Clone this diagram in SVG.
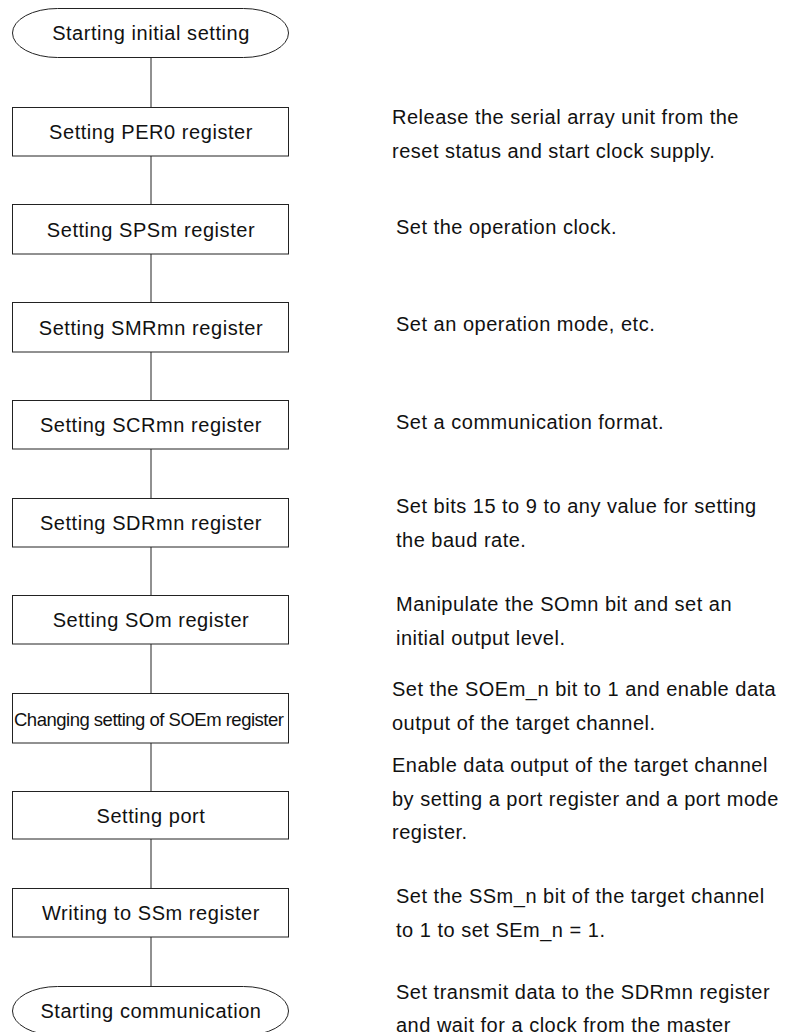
<svg xmlns="http://www.w3.org/2000/svg" width="790" height="1032" viewBox="0 0 790 1032">
<style>
  .shape { fill: #ffffff; stroke: #222222; stroke-width: 1; }
  .conn { stroke: #222222; stroke-width: 1; fill: none; }
  .lbl { font-family: "Liberation Sans", Arial, sans-serif; font-size: 20px; letter-spacing: 0.55px; fill: #111111; text-anchor: middle; }
  .note { font-family: "Liberation Sans", Arial, sans-serif; font-size: 20px; letter-spacing: 0.5px; fill: #111111; }
</style>
<rect width="790" height="1032" fill="#ffffff"/>
<g id="connectors">
  <line class="conn" x1="151" y1="57" x2="151" y2="107"/>
  <line class="conn" x1="151" y1="156" x2="151" y2="204"/>
  <line class="conn" x1="151" y1="254" x2="151" y2="302"/>
  <line class="conn" x1="151" y1="352" x2="151" y2="400"/>
  <line class="conn" x1="151" y1="449" x2="151" y2="498"/>
  <line class="conn" x1="151" y1="547" x2="151" y2="595"/>
  <line class="conn" x1="151" y1="644" x2="151" y2="693"/>
  <line class="conn" x1="151" y1="743" x2="151" y2="791"/>
  <line class="conn" x1="151" y1="839" x2="151" y2="888"/>
  <line class="conn" x1="151" y1="937" x2="151" y2="986"/>
</g>
<g id="start">
  <rect class="shape" x="12.5" y="8.5" width="276" height="49" rx="45" ry="24.5"/>
  <text class="lbl" x="151" y="40">Starting initial setting</text>
</g>
<g id="per0">
  <rect class="shape" x="12.5" y="107.5" width="276" height="48.5"/>
  <text class="lbl" x="151" y="139">Setting PER0 register</text>
</g>
<g id="spsm">
  <rect class="shape" x="12.5" y="204.5" width="276" height="49.5"/>
  <text class="lbl" x="151" y="236.5">Setting SPSm register</text>
</g>
<g id="smrmn">
  <rect class="shape" x="12.5" y="302.5" width="276" height="49.5"/>
  <text class="lbl" x="151" y="334.5">Setting SMRmn register</text>
</g>
<g id="scrmn">
  <rect class="shape" x="12.5" y="400.5" width="276" height="48.5"/>
  <text class="lbl" x="151" y="432">Setting SCRmn register</text>
</g>
<g id="sdrmn">
  <rect class="shape" x="12.5" y="498.5" width="276" height="48.5"/>
  <text class="lbl" x="151" y="530">Setting SDRmn register</text>
</g>
<g id="som">
  <rect class="shape" x="12.5" y="595.5" width="276" height="48.5"/>
  <text class="lbl" x="151" y="627">Setting SOm register</text>
</g>
<g id="soem">
  <rect class="shape" x="12.5" y="693.5" width="276" height="49.5"/>
  <text x="14" y="725.5" font-family="Liberation Sans, Arial, sans-serif" font-size="18.5" letter-spacing="-0.5" fill="#111111">Changing setting of SOEm register</text>
</g>
<g id="port">
  <rect class="shape" x="12.5" y="791.5" width="276" height="47.5"/>
  <text class="lbl" x="151" y="822.5">Setting port</text>
</g>
<g id="ssm">
  <rect class="shape" x="12.5" y="888.5" width="276" height="48.5"/>
  <text class="lbl" x="151" y="920">Writing to SSm register</text>
</g>
<g id="end">
  <rect class="shape" x="12.5" y="986.5" width="276" height="49" rx="45" ry="24.5"/>
  <text class="lbl" x="151" y="1018">Starting communication</text>
</g>
<g id="notes">
  <text class="note" x="392" y="124">Release the serial array unit from the</text>
  <text class="note" x="392" y="158">reset status and start clock supply.</text>
  <text class="note" x="396" y="234">Set the operation clock.</text>
  <text class="note" x="396" y="331">Set an operation mode, etc.</text>
  <text class="note" x="396" y="429">Set a communication format.</text>
  <text class="note" x="396" y="513">Set bits 15 to 9 to any value for setting</text>
  <text class="note" x="396" y="547">the baud rate.</text>
  <text class="note" x="396" y="611">Manipulate the SOmn bit and set an</text>
  <text class="note" x="396" y="645">initial output level.</text>
  <text class="note" x="392" y="696">Set the SOEm_n bit to 1 and enable data</text>
  <text class="note" x="392" y="730">output of the target channel.</text>
  <text class="note" x="392" y="772">Enable data output of the target channel</text>
  <text class="note" x="392" y="806">by setting a port register and a port mode</text>
  <text class="note" x="392" y="839">register.</text>
  <text class="note" x="396" y="903">Set the SSm_n bit of the target channel</text>
  <text class="note" x="396" y="937">to 1 to set SEm_n = 1.</text>
  <text class="note" x="396" y="999">Set transmit data to the SDRmn register</text>
  <text class="note" x="396" y="1032">and wait for a clock from the master</text>
</g>
</svg>
